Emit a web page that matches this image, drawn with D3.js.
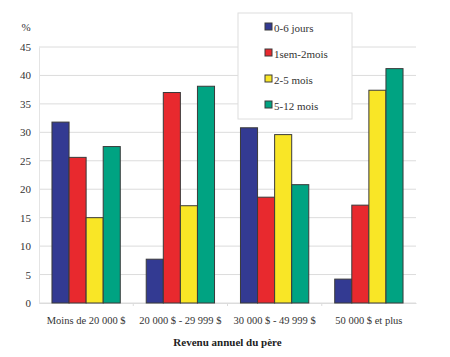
<!DOCTYPE html>
<html>
<head>
<meta charset="utf-8">
<script src="https://cdn.jsdelivr.net/npm/d3@7"></script>
<style>
  body { margin: 0; background: #fff; }
</style>
</head>
<body>
<div id="chart"></div>
<script>
const categories = ['Moins de 20 000 $', '20 000 $ - 29 999 $', '30 000 $ - 49 999 $', '50 000 $ et plus'];
const series = ['0-6 jours', '1sem-2mois', '2-5 mois', '5-12 mois'];
const jours_0_6 = [31.8, 7.7, 30.8, 4.2];
const sem1_mois2 = [25.6, 37.0, 18.6, 17.2];
const mois_2_5 = [15.0, 17.1, 29.6, 37.4];
const mois_5_12 = [27.5, 38.1, 20.8, 41.2];
const yticks = [0, 5, 10, 15, 20, 25, 30, 35, 40, 45];
const colors = ['#333a92', '#e8292e', '#f9e626', '#00a382'];

const values = [jours_0_6, sem1_mois2, mois_2_5, mois_5_12];
const serif = "'Liberation Serif'";

const width = 450, height = 357;
const margin = {top: 47, bottom: 54, left: 39, right: 34};
const w = width - margin.left - margin.right;
const h = height - margin.top - margin.bottom;

const svg = d3.select('#chart')
  .append('svg')
    .attr('width', width)
    .attr('height', height);

const g = svg.append('g')
  .attr('transform', 'translate(' + margin.left + ',' + margin.top + ')');

const x = d3.scaleBand()
  .domain(categories)
  .range([0, w]);

const xs = d3.scaleBand()
  .domain(series)
  .range([0, x.bandwidth()])
  .paddingOuter(0.76);

const y = d3.scaleLinear()
  .domain([0, 45])
  .range([h, 0]);

// grid
g.append('g')
  .selectAll('line')
  .data(yticks)
  .join('line')
    .attr('x1', 0)
    .attr('x2', w)
    .attr('y1', d => y(d))
    .attr('y2', d => y(d))
    .attr('stroke', '#dcdcdc')
    .attr('stroke-width', 1);

// y axis
const yaxis = g.append('g')
  .call(d3.axisLeft(y).tickValues(yticks).tickSize(0).tickPadding(8));
yaxis.select('.domain').attr('stroke', '#e4e4e4');
yaxis.selectAll('text')
  .attr('font-size', 11)
  .attr('fill', '#333')
  .style('font-family', serif);

// x axis
const xaxis = g.append('g')
  .attr('transform', 'translate(0,' + h + ')')
  .call(d3.axisBottom(x).tickSize(0).tickPadding(14));
xaxis.select('.domain').attr('stroke', '#dcdcdc');
xaxis.selectAll('text')
  .attr('font-size', 10.5)
  .attr('fill', '#333')
  .style('font-family', serif);
g.append('g')
  .selectAll('line')
  .data(categories.slice(1))
  .join('line')
    .attr('x1', d => x(d))
    .attr('x2', d => x(d))
    .attr('y1', h)
    .attr('y2', h + 3)
    .attr('stroke', '#dcdcdc');

// bars
const groups = g.append('g')
  .selectAll('g')
  .data(series)
  .join('g')
    .attr('fill', (d, i) => colors[i]);

groups.selectAll('rect')
  .data((s, i) => categories.map((c, j) => ({c: c, s: s, v: values[i][j]})))
  .join('rect')
    .attr('x', d => x(d.c) + xs(d.s))
    .attr('y', d => y(d.v))
    .attr('width', xs.bandwidth())
    .attr('height', d => h - y(d.v))
    .attr('stroke', '#3a3a3a')
    .attr('stroke-width', 1);

// % label
svg.append('text')
  .attr('x', 26)
  .attr('y', 31)
  .attr('text-anchor', 'middle')
  .attr('font-size', 11)
  .attr('fill', '#333')
  .style('font-family', serif)
  .text('%');

// x title
svg.append('text')
  .attr('x', margin.left + w / 2)
  .attr('y', 346)
  .attr('text-anchor', 'middle')
  .attr('font-size', 11)
  .attr('font-weight', 'bold')
  .attr('fill', '#222')
  .style('font-family', serif)
  .text('Revenu annuel du père');

// legend
const legend = svg.append('g')
  .attr('transform', 'translate(238,13)');
legend.append('rect')
  .attr('width', 114)
  .attr('height', 106)
  .attr('fill', '#fff')
  .attr('stroke', '#dedede');
const items = legend.selectAll('g')
  .data(series)
  .join('g')
    .attr('transform', (d, i) => 'translate(27,' + (10 + i * 26) + ')');
items.append('rect')
  .attr('width', 7)
  .attr('height', 7)
  .attr('fill', (d, i) => colors[i])
  .attr('stroke', '#3a3a3a');
items.append('text')
  .attr('x', 9)
  .attr('y', 9)
  .attr('font-size', 11)
  .attr('fill', '#333')
  .style('font-family', serif)
  .text(d => d);
</script>
</body>
</html>
